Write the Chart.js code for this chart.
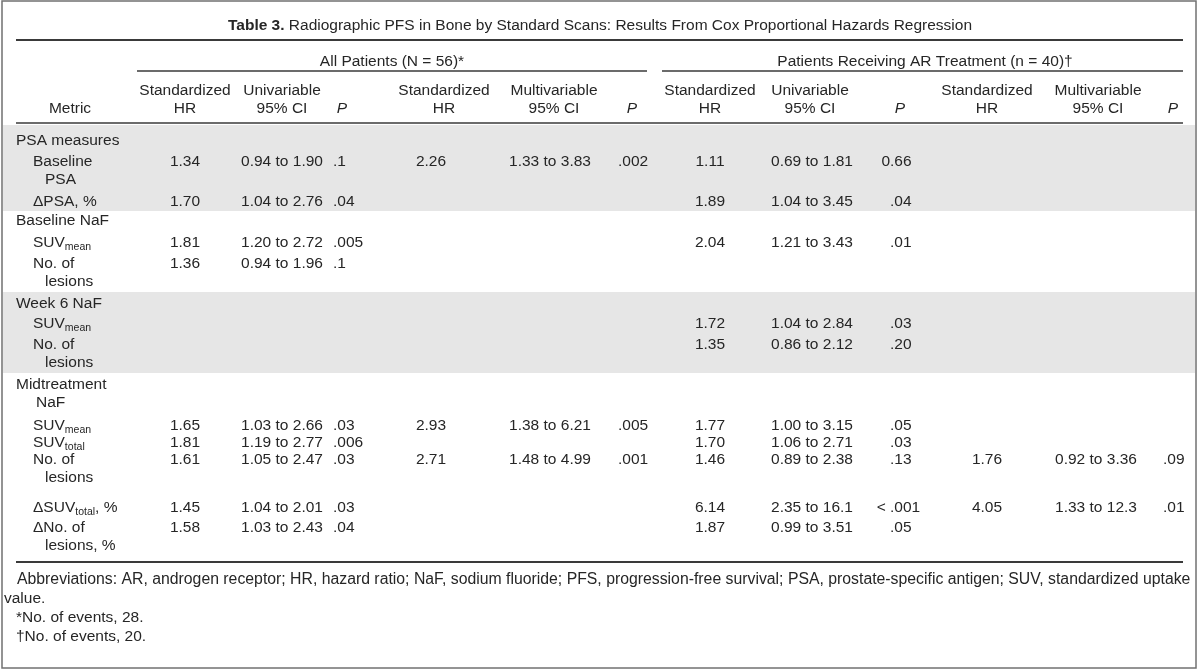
<!DOCTYPE html>
<html><head><meta charset="utf-8">
<script src="https://cdn.jsdelivr.net/npm/chart.js@4.4.1/dist/chart.umd.min.js"></script>
<style>html,body{margin:0;padding:0;background:#fff;}canvas{display:block}</style>
</head><body>
<canvas id="c" width="1200" height="671"></canvas>
<script>
// ---------- DATA ----------
const titleBold = "Table 3.";
const titleText = " Radiographic PFS in Bone by Standard Scans: Results From Cox Proportional Hazards Regression";
const groupHeaders = ["All Patients (N = 56)*", "Patients Receiving AR Treatment (n = 40)\u2020"];
const columnHeaders = [
  ["", "Metric"],
  ["Standardized", "HR"], ["Univariable", "95% CI"], ["", "P"],
  ["Standardized", "HR"], ["Multivariable", "95% CI"], ["", "P"],
  ["Standardized", "HR"], ["Univariable", "95% CI"], ["", "P"],
  ["Standardized", "HR"], ["Multivariable", "95% CI"], ["", "P"]
];
const metricLines = [
  ["PSA measures"], ["Baseline", "PSA"], ["\u0394PSA, %"],
  ["Baseline NaF"], ["SUV[mean]"], ["No. of", "lesions"],
  ["Week 6 NaF"], ["SUV[mean]"], ["No. of", "lesions"],
  ["Midtreatment", "NaF"], ["SUV[mean]"], ["SUV[total]"], ["No. of", "lesions"],
  ["\u0394SUV[total], %"], ["\u0394No. of", "lesions, %"]
];
const metricLevel = [0,1,1, 0,1,1, 0,1,1, 0,1,1,1,1,1];

const hrAllUni    = [null,1.34,1.70, null,1.81,1.36, null,null,null, null,1.65,1.81,1.61,1.45,1.58];
const ciAllUniLo  = [null,0.94,1.04, null,1.20,0.94, null,null,null, null,1.03,1.19,1.05,1.04,1.03];
const ciAllUniHi  = [null,1.90,2.76, null,2.72,1.96, null,null,null, null,2.66,2.77,2.47,2.01,2.43];
const pAllUni     = [null,".1",".04", null,".005",".1", null,null,null, null,".03",".006",".03",".03",".04"];

const hrAllMulti   = [null,2.26,null, null,null,null, null,null,null, null,2.93,null,2.71,null,null];
const ciAllMultiLo = [null,1.33,null, null,null,null, null,null,null, null,1.38,null,1.48,null,null];
const ciAllMultiHi = [null,3.83,null, null,null,null, null,null,null, null,6.21,null,4.99,null,null];
const pAllMulti    = [null,".002",null, null,null,null, null,null,null, null,".005",null,".001",null,null];

const hrARUni    = [null,1.11,1.89, null,2.04,null, null,1.72,1.35, null,1.77,1.70,1.46,6.14,1.87];
const ciARUniLo  = [null,0.69,1.04, null,1.21,null, null,1.04,0.86, null,1.00,1.06,0.89,2.35,0.99];
const ciARUniHi  = [null,1.81,3.45, null,3.43,null, null,2.84,2.12, null,3.15,2.71,2.38,16.1,3.51];
const pARUni     = [null,"0.66",".04", null,".01",null, null,".03",".20", null,".05",".03",".13","< .001",".05"];

const hrARMulti   = [null,null,null, null,null,null, null,null,null, null,null,null,1.76,4.05,null];
const ciARMultiLo = [null,null,null, null,null,null, null,null,null, null,null,null,0.92,1.33,null];
const ciARMultiHi = [null,null,null, null,null,null, null,null,null, null,null,null,3.36,12.3,null];
const pARMulti    = [null,null,null, null,null,null, null,null,null, null,null,null,".09",".01",null];

const footnotes = [
  "Abbreviations: AR, androgen receptor; HR, hazard ratio; NaF, sodium fluoride; PFS, progression-free survival; PSA, prostate-specific antigen; SUV, standardized uptake",
  "value.",
  "*No. of events, 28.",
  "\u2020No. of events, 20."
];

// ---------- LAYOUT ----------
const L = {
  fontFamily: '"Liberation Sans", Arial, sans-serif',
  fontSize: 15.5, subSize: 10.5, color: '#262626',
  titleY: 26, groupY: 62, headY: [91, 109],
  rowY: [141,162,202, 221,243,264, 304,324,345, 385,426,443,460, 508,528],
  lineStep: 18,
  indent: [[16, 36], [33, 45]],
  colX:   [185, 282, 333, 431, 550, 618, 710, 812, 890, 987, 1096, 1163],
  colAlign: ['center','center','decimal','center','center','decimal','center','center','decimal','center','center','decimal'],
  headX: [70, 185, 282, 342, 444, 554, 632, 710, 810, 900, 987, 1098, 1173],
  groupX: [392, 925],
  groupLine: [[137, 647], [662, 1183]], groupLineY: 71,
  ruleX: [16, 1183], titleRuleY: 40, headRuleY: 123, bottomRuleY: 562,
  bands: [[125, 211], [292, 373]], bandX: [3, 1195], bandColor: '#e6e6e6',
  frame: [2, 1, 1196, 668],
  footX: [17, 4, 16, 16], footY: [580, 599, 618, 637], footWidth: 1175
};

// ---------- BUILD DATASETS ----------
const fmtHR = v => v.toFixed(2);
const fmtCI = v => v >= 10 ? v.toFixed(1) : v.toFixed(2);
const valueCols = [
  [hrAllUni, null], [ciAllUniLo, ciAllUniHi], [pAllUni, null],
  [hrAllMulti, null], [ciAllMultiLo, ciAllMultiHi], [pAllMulti, null],
  [hrARUni, null], [ciARUniLo, ciARUniHi], [pARUni, null],
  [hrARMulti, null], [ciARMultiLo, ciARMultiHi], [pARMulti, null]
];
const datasets = [];
valueCols.forEach((col, c) => {
  const [a, b] = col;
  const data = [];
  a.forEach((v, r) => {
    if (v === null) return;
    let t;
    if (typeof v === 'string') t = v;
    else if (b) t = fmtCI(v) + ' to ' + fmtCI(b[r]);
    else t = fmtHR(v);
    data.push({x: L.colX[c], y: L.rowY[r], t});
  });
  datasets.push({data, align: L.colAlign[c]});
});
// metric labels
const mdata = [];
metricLines.forEach((lines, r) => {
  lines.forEach((t, j) => {
    mdata.push({x: L.indent[metricLevel[r]][j ? 1 : 0], y: L.rowY[r] + j * L.lineStep, t});
  });
});
datasets.push({data: mdata, align: 'left'});
// headers
const hdata = [];
columnHeaders.forEach((h, c) => {
  h.forEach((t, j) => {
    if (t) hdata.push({x: L.headX[c], y: L.headY[j], t, italic: t === 'P'});
  });
});
groupHeaders.forEach((t, g) => hdata.push({x: L.groupX[g], y: L.groupY, t}));
datasets.push({data: hdata, align: 'center'});
// footnotes
const fdata = footnotes.map((t, i) => ({x: L.footX[i], y: L.footY[i], t, fit: i === 0}));
datasets.push({data: fdata, align: 'left'});
// title
datasets.push({data: [{x: 600, y: L.titleY, t: titleText, bold: titleBold}], align: 'title'});

datasets.forEach(d => { d.pointRadius = 0; d.showLine = false; d.clip = false; });

// ---------- DRAWING ----------
function font(size, style) { return (style || '') + ' ' + size + 'px ' + L.fontFamily; }
function segs(str) {
  const out = []; const re = /\[(.*?)\]/g; let last = 0, m;
  while ((m = re.exec(str))) {
    if (m.index > last) out.push({t: str.slice(last, m.index), sub: false});
    out.push({t: m[1], sub: true}); last = re.lastIndex;
  }
  if (last < str.length) out.push({t: str.slice(last), sub: false});
  return out;
}
function drawRich(ctx, str, x, y, align, style, size) {
  size = size || L.fontSize;
  const parts = segs(str);
  let w = 0;
  parts.forEach(p => { ctx.font = font(p.sub ? L.subSize : size, style); p.w = ctx.measureText(p.t).width; w += p.w; });
  let sx = x;
  if (align === 'center') sx = x - w / 2;
  else if (align === 'decimal') {
    const i = str.indexOf('.');
    ctx.font = font(size, style);
    sx = x - ctx.measureText(str.slice(0, i)).width;
  }
  parts.forEach(p => {
    ctx.font = font(p.sub ? L.subSize : size, style);
    ctx.fillText(p.t, sx, p.sub ? y + 4.5 : y);
    sx += p.w;
  });
}

const tablePlugin = {
  id: 'tablePlugin',
  beforeDatasetsDraw(chart) {
    const ctx = chart.ctx, xs = chart.scales.x, ys = chart.scales.y;
    const X = v => xs.getPixelForValue(v), Y = v => ys.getPixelForValue(v);
    ctx.save();
    ctx.fillStyle = '#fff'; ctx.fillRect(0, 0, chart.width, chart.height);
    ctx.fillStyle = L.bandColor;
    L.bands.forEach(([a, b]) => ctx.fillRect(X(L.bandX[0]), Y(a), X(L.bandX[1]) - X(L.bandX[0]), Y(b) - Y(a)));
    ctx.strokeStyle = '#3a3a3a';
    const hl = (x0, x1, y, w) => { ctx.lineWidth = w; ctx.beginPath(); ctx.moveTo(X(x0), Y(y)); ctx.lineTo(X(x1), Y(y)); ctx.stroke(); };
    hl(L.ruleX[0], L.ruleX[1], L.titleRuleY, 2);
    L.groupLine.forEach(([a, b]) => hl(a, b, L.groupLineY, 1.3));
    hl(L.ruleX[0], L.ruleX[1], L.headRuleY, 1.6);
    hl(L.ruleX[0], L.ruleX[1], L.bottomRuleY, 2.2);
    ctx.strokeStyle = '#707070'; ctx.lineWidth = 1.5;
    const f = L.frame;
    ctx.strokeRect(X(f[0]), Y(f[1]), X(f[2]) - X(f[0]), Y(f[3]) - Y(f[1]));
    ctx.restore();
  },
  afterDatasetsDraw(chart) {
    const ctx = chart.ctx;
    ctx.save();
    ctx.fillStyle = L.color; ctx.textBaseline = 'middle';
    chart.data.datasets.forEach((ds, di) => {
      const meta = chart.getDatasetMeta(di);
      meta.data.forEach((el, i) => {
        const d = ds.data[i];
        if (ds.align === 'title') {
          ctx.font = font(L.fontSize, 'bold'); const wb = ctx.measureText(d.bold).width;
          ctx.font = font(L.fontSize); const wt = ctx.measureText(d.t).width;
          const sx = el.x - (wb + wt) / 2;
          ctx.font = font(L.fontSize, 'bold'); ctx.fillText(d.bold, sx, el.y);
          ctx.font = font(L.fontSize); ctx.fillText(d.t, sx + wb, el.y);
          return;
        }
        let size = L.fontSize;
        if (d.fit) { ctx.font = font(size); size = size * L.footWidth / ctx.measureText(d.t).width; }
        drawRich(ctx, d.t, el.x, el.y, ds.align, d.italic ? 'italic' : '', size);
      });
    });
    ctx.restore();
  }
};

new Chart(document.getElementById('c'), {
  type: 'scatter',
  data: {datasets},
  options: {
    responsive: false, animation: false, devicePixelRatio: 1,
    events: [],
    layout: {padding: 0},
    plugins: {legend: {display: false}, tooltip: {enabled: false}, title: {display: false}},
    scales: {
      x: {type: 'linear', min: 0, max: 1200, display: false},
      y: {type: 'linear', min: 0, max: 671, reverse: true, display: false}
    }
  },
  plugins: [tablePlugin]
});
</script>
</body></html>
